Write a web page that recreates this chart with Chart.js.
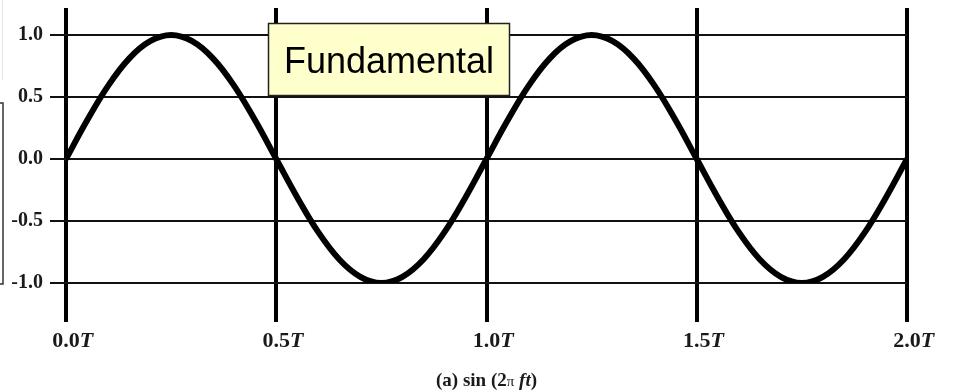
<!DOCTYPE html>
<html>
<head>
<meta charset="utf-8">
<script src="https://cdn.jsdelivr.net/npm/chart.js@4/dist/chart.umd.min.js"></script>
<style>
  html, body { margin: 0; padding: 0; background: #fff; }
  #wave { display: block; }
</style>
</head>
<body>
<canvas id="wave" width="960" height="392"></canvas>
<script>
// two full periods of the fundamental, sampled every 0.05T
const timeValues = [
  0.00, 0.05, 0.10, 0.15, 0.20, 0.25, 0.30, 0.35, 0.40, 0.45,
  0.50, 0.55, 0.60, 0.65, 0.70, 0.75, 0.80, 0.85, 0.90, 0.95,
  1.00, 1.05, 1.10, 1.15, 1.20, 1.25, 1.30, 1.35, 1.40, 1.45,
  1.50, 1.55, 1.60, 1.65, 1.70, 1.75, 1.80, 1.85, 1.90, 1.95,
  2.00
];
const signalValues = [
  0.00, 0.31, 0.59, 0.81, 0.95, 1.00, 0.95, 0.81, 0.59, 0.31,
  0.00, -0.31, -0.59, -0.81, -0.95, -1.00, -0.95, -0.81, -0.59, -0.31,
  0.00, 0.31, 0.59, 0.81, 0.95, 1.00, 0.95, 0.81, 0.59, 0.31,
  0.00, -0.31, -0.59, -0.81, -0.95, -1.00, -0.95, -0.81, -0.59, -0.31,
  0.00
];
const xTicks = [0, 0.5, 1.0, 1.5, 2.0];
const yTicks = [-1.0, -0.5, 0.0, 0.5, 1.0];
const boxLabel = 'Fundamental';

const serif = '"Liberation Serif", "DejaVu Serif", serif';

// x labels: number upright, the T in italics; the number sits centred on its line
const xLabels = {
  id: 'xLabels',
  afterDraw(chart) {
    const ctx = chart.ctx;
    const x = chart.scales.x;
    ctx.save();
    ctx.fillStyle = '#1a1a1a';
    ctx.textBaseline = 'alphabetic';
    ctx.textAlign = 'left';
    xTicks.forEach(v => {
      const num = v.toFixed(1);
      ctx.font = 'bold 22px ' + serif;
      const w = ctx.measureText(num).width;
      const px = x.getPixelForValue(v) - w / 2;
      ctx.fillText(num, px, 347);
      ctx.font = 'italic bold 22px ' + serif;
      ctx.fillText('T', px + w, 347);
    });

    // caption under the plot
    const parts = [
      ['(a) sin (2', 'bold 19px ' + serif],
      ['\u03c0', '15px ' + serif],
      [' ', 'bold 19px ' + serif],
      ['ft', 'italic bold 19px ' + serif],
      [')', 'bold 19px ' + serif]
    ];
    let total = 0;
    parts.forEach(p => { ctx.font = p[1]; total += ctx.measureText(p[0]).width; });
    let cx = (chart.chartArea.left + chart.chartArea.right) / 2 - total / 2;
    parts.forEach(p => {
      ctx.font = p[1];
      ctx.fillText(p[0], cx, 386);
      cx += ctx.measureText(p[0]).width;
    });

    // frame edges at the far left
    ctx.strokeStyle = '#333';
    ctx.lineWidth = 1.5;
    ctx.strokeRect(-10, 103, 13, 181);
    ctx.strokeStyle = '#e4e4e4';
    ctx.lineWidth = 1;
    ctx.beginPath();
    ctx.moveTo(2.5, 0);
    ctx.lineTo(2.5, 80);
    ctx.stroke();
    ctx.restore();
  }
};

// the yellow callout box
const calloutBox = {
  id: 'calloutBox',
  afterDatasetsDraw(chart) {
    const ctx = chart.ctx;
    ctx.save();
    ctx.fillStyle = '#ffffcc';
    ctx.fillRect(268, 23, 242, 73);
    ctx.strokeStyle = '#222';
    ctx.lineWidth = 1.5;
    ctx.strokeRect(268.5, 23.5, 241, 72);
    ctx.fillStyle = '#000';
    ctx.font = '36px "Liberation Sans", Arial, sans-serif';
    ctx.textAlign = 'center';
    ctx.textBaseline = 'alphabetic';
    ctx.fillText(boxLabel, 389, 73);
    ctx.restore();
  }
};

new Chart(document.getElementById('wave'), {
  type: 'line',
  data: {
    datasets: [{
      data: timeValues.map((t, i) => ({ x: t, y: signalValues[i] })),
      borderColor: '#000',
      borderWidth: 6,
      pointRadius: 0,
      fill: false,
      tension: 0.4
    }]
  },
  options: {
    responsive: false,
    animation: false,
    events: [],
    layout: { padding: { top: 8, right: 53, left: 0, bottom: 0 } },
    plugins: { legend: { display: false }, tooltip: { enabled: false } },
    scales: {
      x: {
        type: 'linear',
        min: 0,
        max: 2,
        afterBuildTicks: s => { s.ticks = xTicks.map(v => ({ value: v })); },
        afterFit: s => { s.height = 109; s.paddingLeft = 0; s.paddingRight = 0; },
        ticks: { display: false },
        border: { display: false },
        grid: { color: '#000', lineWidth: 4, tickLength: 39, drawTicks: true }
      },
      y: {
        min: -1,
        max: 1.218,
        afterBuildTicks: s => { s.ticks = yTicks.map(v => ({ value: v })); },
        afterFit: s => { s.width = 66; s.paddingTop = 0; s.paddingBottom = 0; },
        border: { display: false },
        grid: { color: '#111', lineWidth: 2, tickLength: 16 },
        ticks: {
          padding: 7,
          color: '#1a1a1a',
          font: { family: serif, weight: 'bold', size: 20 },
          callback: v => v.toFixed(1)
        }
      }
    }
  },
  plugins: [xLabels, calloutBox]
});
</script>
</body>
</html>
